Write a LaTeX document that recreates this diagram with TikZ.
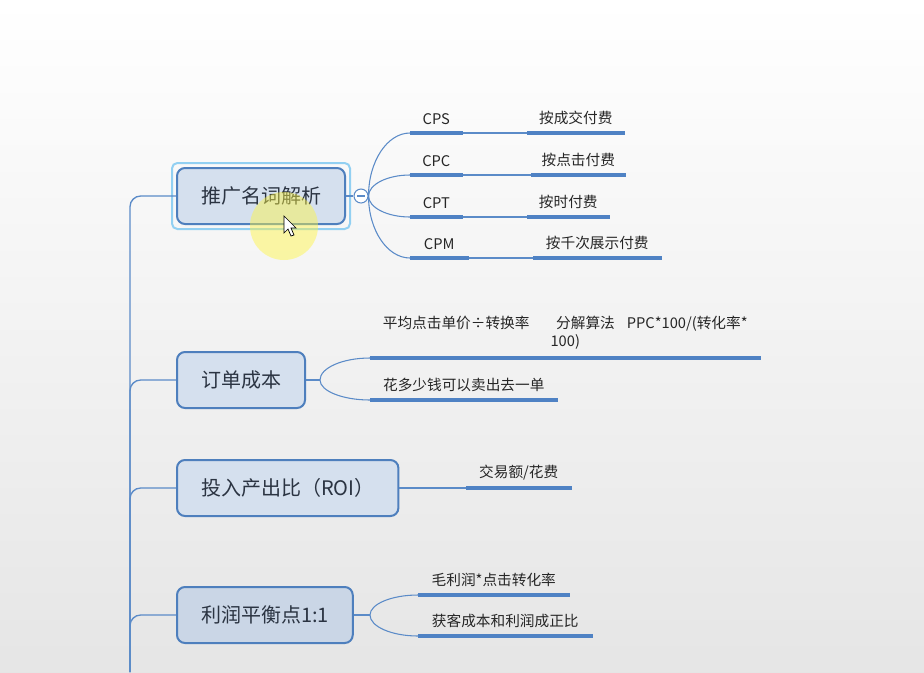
\documentclass[tikz,border=0pt]{standalone}
\usepackage{fontspec}
\newfontfamily\cjk{Noto Sans CJK SC}
\usetikzlibrary{positioning,fit,calc,backgrounds}
\definecolor{mmLine}{HTML}{5B8BC8}
\definecolor{mmBar}{HTML}{4F82C4}
\definecolor{mmBorder}{HTML}{4E7FBD}
\definecolor{mmFill}{HTML}{D5E0EE}
\definecolor{mmFillDark}{HTML}{CAD6E6}
\definecolor{mmSel}{HTML}{92D0F2}
\definecolor{mmText}{HTML}{2B3442}
\tikzset{
  topic/.style={
    draw=mmBorder, line width=1.5pt, fill=mmFill, rounded corners=6pt,
    minimum height=42pt, inner xsep=18pt, anchor=west,
    font=\cjk\fontsize{15}{18}\selectfont, text=mmText
  },
  subtopic/.style={
    anchor=south west, inner xsep=0pt, inner ysep=6pt, align=center,
    font=\cjk\fontsize{11}{14}\selectfont, text=black!85,
    minimum width=#1*0.75pt
  },
  bar/.style={line width=2.4pt, mmBar},
  branch/.style={line width=0.8pt, mmLine},
  trunk/.style={line width=1pt, mmLine, rounded corners=8pt},
  selbox/.style={draw=mmSel, line width=1.5pt, rounded corners=4pt, inner sep=3pt},
  fold/.style={circle, draw=mmLine, fill=white, line width=0.8pt, minimum size=10.5pt, inner sep=0pt}
}
\begin{document}
\begin{tikzpicture}[x=0.75pt, y=-0.75pt]
  \shade[top color=white, bottom color=black!10] (0,0) rectangle (924,672);
  \useasboundingbox (0,0) rectangle (924,672);

  % main topics
  \node[topic] (terms) at (176,196) {推广名词解析};
  \node[topic] (cost) at (176,380) {订单成本};
  \node[topic] (roi) at (176,488) {投入产出比（ROI）};
  \node[topic, fill=mmFillDark] (balance) at (176,615) {利润平衡点1:1};
  \node[selbox, fit=(terms)] (sel) {};
  \coordinate (root) at (130,672);
  \foreach \t in {terms,cost,roi,balance}
    \draw[trunk] (\t.west) -| (root);

  % terms
  \node[fold] (fold) at (361,196) {};
  \draw[branch] (terms.east) -- (fold.west);
  \draw[branch] ([xshift=-3pt]fold.center) -- ([xshift=3pt]fold.center);
  \node[subtopic=52] (cps) at (410,133) {CPS};
  \node[subtopic=52] (cpc) at (410,175) {CPC};
  \node[subtopic=52] (cpt) at (410,217) {CPT};
  \node[subtopic=58] (cpm) at (410,258) {CPM};
  \node[subtopic=97] (cpsfee) at (527,133) {按成交付费};
  \node[subtopic=94] (cpcfee) at (531,175) {按点击付费};
  \node[subtopic=82] (cptfee) at (527,217) {按时付费};
  \node[subtopic=128] (cpmfee) at (533,258) {按千次展示付费};
  \foreach \c in {cps,cpc,cpt,cpm}
    \draw[branch] (fold.east)
      .. controls ($(fold.east)!0.55!(fold.east |- \c.south west)$)
      and ($(\c.south west)!0.55!(fold.east |- \c.south west)$) .. (\c.south west);
  \foreach \c/\f in {cps/cpsfee,cpc/cpcfee,cpt/cptfee,cpm/cpmfee}
    \draw[branch] (\c.south east) -- (\f.south west);

  % cost
  \coordinate (costsplit) at (320,380);
  \node[subtopic=390] (cost1) at (370,358)
    {平均点击单价÷转换率\hspace{20pt}分解算法\hspace{9pt}PPC*100/(转化率*\\100)};
  \node[subtopic=187] (cost2) at (370,400) {花多少钱可以卖出去一单};
  \draw[branch] (cost.east) -- (costsplit);
  \foreach \c in {cost1,cost2}
    \draw[branch] (costsplit)
      .. controls ($(costsplit)!0.55!(costsplit |- \c.south west)$)
      and ($(\c.south west)!0.55!(costsplit |- \c.south west)$) .. (\c.south west);

  % roi
  \node[subtopic=105] (roi1) at (466,488) {交易额/花费};
  \draw[branch] (roi.east) -- (roi1.south west);

  % balance
  \coordinate (balsplit) at (370,615);
  \node[subtopic=151] (bal1) at (418,595) {毛利润*点击转化率};
  \node[subtopic=174] (bal2) at (418,636) {获客成本和利润成正比};
  \draw[branch] (balance.east) -- (balsplit);
  \foreach \c in {bal1,bal2}
    \draw[branch] (balsplit)
      .. controls ($(balsplit)!0.55!(balsplit |- \c.south west)$)
      and ($(\c.south west)!0.55!(balsplit |- \c.south west)$) .. (\c.south west);

  \foreach \n in {cps,cpc,cpt,cpm,cpsfee,cpcfee,cptfee,cpmfee,cost1,cost2,roi1,bal1,bal2}
    \draw[bar] (\n.south west) -- (\n.south east);

  % pointer highlight
  \fill[yellow!75!white, opacity=0.45] (284,226) circle[radius=34];
  \filldraw[fill=white, draw=black, line width=0.5pt]
    (284,216) -- (284,233) -- (288,229) -- (291,236) -- (294,235) -- (291,228) -- (296,228) -- cycle;
\end{tikzpicture}
\end{document}
